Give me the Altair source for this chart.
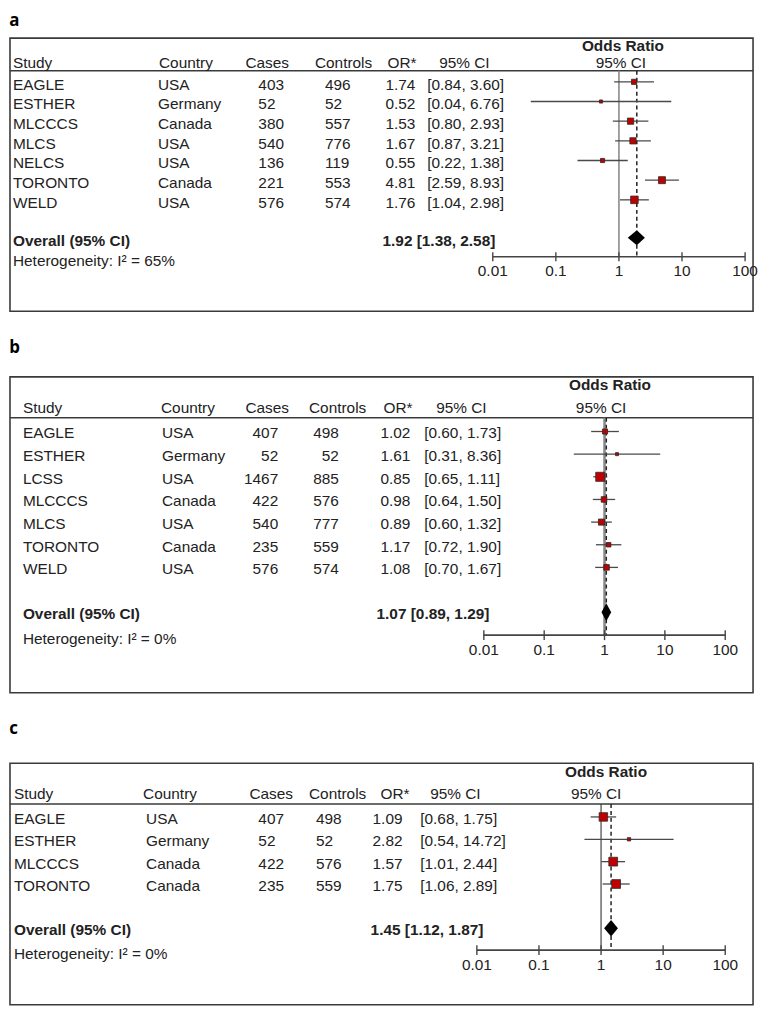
import altair as alt
import pandas as pd

# ---------------- data ----------------
# Panel a
a_study = ["EAGLE", "ESTHER", "MLCCCS", "MLCS", "NELCS", "TORONTO", "WELD"]
a_country = ["USA", "Germany", "Canada", "USA", "USA", "Canada", "USA"]
a_cases = [403, 52, 380, 540, 136, 221, 576]
a_controls = [496, 52, 557, 776, 119, 553, 574]
a_or = [1.74, 0.52, 1.53, 1.67, 0.55, 4.81, 1.76]
a_lo = [0.84, 0.04, 0.80, 0.87, 0.22, 2.59, 1.04]
a_hi = [3.60, 6.76, 2.93, 3.21, 1.38, 8.93, 2.98]
a_weight = [11.4, 4.1, 16.4, 16.4, 7.3, 20.5, 24.1]
a_overall = [1.92, 1.38, 2.58]
a_i2 = 65

# Panel b
b_study = ["EAGLE", "ESTHER", "LCSS", "MLCCCS", "MLCS", "TORONTO", "WELD"]
b_country = ["USA", "Germany", "USA", "Canada", "USA", "Canada", "USA"]
b_cases = [407, 52, 1467, 422, 540, 235, 576]
b_controls = [498, 52, 885, 576, 777, 559, 574]
b_or = [1.02, 1.61, 0.85, 0.98, 0.89, 1.17, 1.08]
b_lo = [0.60, 0.31, 0.65, 0.64, 0.60, 0.72, 0.70]
b_hi = [1.73, 8.36, 1.11, 1.50, 1.32, 1.90, 1.67]
b_weight = [10.9, 3.9, 34.8, 13.1, 15.7, 8.7, 13.1]
b_overall = [1.07, 0.89, 1.29]
b_i2 = 0

# Panel c
c_study = ["EAGLE", "ESTHER", "MLCCCS", "TORONTO"]
c_country = ["USA", "Germany", "Canada", "Canada"]
c_cases = [407, 52, 422, 235]
c_controls = [498, 52, 576, 559]
c_or = [1.09, 2.82, 1.57, 1.75]
c_lo = [0.68, 0.54, 1.01, 1.06]
c_hi = [1.75, 14.72, 2.44, 2.89]
c_weight = [30.5, 4.6, 32.5, 32.5]
c_overall = [1.45, 1.12, 1.87]
c_i2 = 0

tick_values = [0.01, 0.1, 1, 10, 100]
tick_labels = ["0.01", "0.1", "1", "10", "100"]
headers = ["Study", "Country", "Cases", "Controls", "OR*", "95% CI"]

# ---------------- layout / style ----------------
FONT = "Liberation Sans"
FS = 15.5
TXT = "#222222"
LINE = "#3a3a3a"
PANEL_W = 748

LAYOUT = {
    "a": dict(width=PANEL_W, height=275, ydom=(-2.222, 11.667), xrange=(486, 740), title_offset=8,
              y_or=-1.82, y_hdr=-0.96, y_line=-0.56, y_overall=7.93, y_het=9.09, y_axis=8.89,
              y_lab=9.6, tick=0.23, dh=0.38, dy=3,
              cols=dict(study=3, country_h=150, country=149, cases_h=237, cases=250,
                        controls_h=307, controls=317, or_h=380, or_=378, ci_h=432, ci=420,
                        overall_val=375, or_center=617, ci_center=615),
              num_align="left", one_color="#8a8a8a", one_width=1.6),
    "b": dict(width=PANEL_W, height=318, ydom=(-2.412, 11.535), xrange=(477, 720), title_offset=20,
              y_or=-2.06, y_hdr=-1.05, y_line=-0.61, y_overall=7.98, y_het=9.17, y_axis=8.99,
              y_lab=9.65, tick=0.22, dh=0.4, dy=2,
              cols=dict(study=13, country_h=152, country=153, cases_h=237, cases=270,
                        controls_h=301, controls=331, or_h=376, or_=403, ci_h=429, ci=417,
                        overall_val=369, or_center=604, ci_center=595),
              num_align="right", one_color="#8a8a8a", one_width=2.6),
    "c": dict(width=PANEL_W, height=243, ydom=(-2.4, 8.4), xrange=(470, 720), title_offset=25,
              y_or=-2.0, y_hdr=-1.02, y_line=-0.58, y_overall=4.98, y_het=6.13, y_axis=5.96,
              y_lab=6.62, tick=0.22, dh=0.37, dy=2,
              cols=dict(study=4, country_h=134, country=137, cases_h=241, cases=250,
                        controls_h=301, controls=308, or_h=373, or_=365, ci_h=423, ci=413,
                        overall_val=363, or_center=600, ci_center=590),
              num_align="left", one_color="#333333", one_width=1.1),
}


def panel(letter, study, country, cases, controls, orv, lo, hi, weight, overall, i2):
    L = LAYOUT[letter]
    C = L["cols"]
    n = len(study)
    df = pd.DataFrame(dict(idx=list(range(n)), study=study, country=country, cases=cases,
                           controls=controls, orv=orv, lo=lo, hi=hi, w=weight))
    df["ci"] = [f"[{l:.2f}, {h:.2f}]" for l, h in zip(lo, hi)]
    df["cases_s"] = [str(v) for v in cases]
    df["controls_s"] = [str(v) for v in controls]
    df["or_s"] = [f"{v:.2f}" for v in orv]

    yscale = alt.Scale(domain=list(L["ydom"]), reverse=True, nice=False, zero=False)
    xscale = alt.Scale(type="log", domain=[0.01, 100], range=list(L["xrange"]), nice=False)

    def Y(f):
        return alt.Y(f, type="quantitative", scale=yscale, axis=None)

    def X(f):
        return alt.X(f, type="quantitative", scale=xscale, axis=None)

    def one(val, y):
        return pd.DataFrame({"t": [val], "y": [y]})

    def text(data, x, field, y="y", align="left", bold=False, dy=0, size=FS):
        return alt.Chart(data).mark_text(
            align=align, baseline="middle", font=FONT, fontSize=size, color=TXT,
            fontWeight="bold" if bold else "normal", dy=dy,
        ).encode(x=alt.value(x), y=Y(y), text=alt.Text(f"{field}:N"))

    est, olo, ohi = overall
    layers = []

    # header separator line
    layers.append(alt.Chart(one("", L["y_line"])).mark_rule(color=LINE, strokeWidth=1.6).encode(
        x=alt.value(0), x2=alt.value(L["width"]), y=Y("y")))

    # vertical reference lines
    vref = pd.DataFrame({"x": [1.0], "y": [L["y_line"]], "y2": [L["y_axis"]]})
    layers.append(alt.Chart(vref).mark_rule(color=L["one_color"], strokeWidth=L["one_width"]).encode(
        x=X("x"), y=Y("y"), y2="y2"))
    vest = pd.DataFrame({"x": [est], "y": [L["y_line"]], "y2": [L["y_axis"]]})
    layers.append(alt.Chart(vest).mark_rule(color="#222222", strokeWidth=1.5, strokeDash=[4, 3]).encode(
        x=X("x"), y=Y("y"), y2="y2"))

    # CI lines
    layers.append(alt.Chart(df).mark_rule(color="#4a4a4a", strokeWidth=1.3).encode(
        x=X("lo"), x2="hi", y=Y("idx")))
    # study squares
    layers.append(alt.Chart(df).mark_square(filled=True, fill="#c00000", stroke="#2a2a2a",
                                            strokeWidth=0.8, opacity=1).encode(
        x=X("orv"), y=Y("idx"),
        size=alt.Size("w:Q", scale=alt.Scale(domain=[0, 100], range=[0, 240]), legend=None)))

    # overall diamond
    yo, h = L["y_overall"], L["dh"]
    dia = pd.DataFrame({"x": [olo, est, ohi], "y": [yo, yo - h, yo], "y2": [yo, yo + h, yo]})
    layers.append(alt.Chart(dia).mark_area(color="black", orient="vertical", interpolate="linear").encode(
        x=X("x"), y=Y("y"), y2="y2"))

    # x axis (line, ticks, labels)
    ax = pd.DataFrame({"x": [tick_values[0]], "x2": [tick_values[-1]], "y": [L["y_axis"]]})
    layers.append(alt.Chart(ax).mark_rule(color="#444444", strokeWidth=1.6).encode(
        x=X("x"), x2="x2", y=Y("y")))
    tk = pd.DataFrame({"x": tick_values, "y": [L["y_axis"] - L["tick"]] * len(tick_values),
                       "y2": [L["y_axis"] + L["tick"]] * len(tick_values)})
    layers.append(alt.Chart(tk).mark_rule(color="#444444", strokeWidth=1.4).encode(
        x=X("x"), y=Y("y"), y2="y2"))
    tl = pd.DataFrame({"x": tick_values, "lab": tick_labels, "y": [L["y_lab"]] * len(tick_values)})
    layers.append(alt.Chart(tl).mark_text(align="center", baseline="middle", font=FONT, fontSize=FS,
                                          color=TXT).encode(x=X("x"), y=Y("y"), text="lab:N"))

    # column headers
    hx = [C["study"], C["country_h"], C["cases_h"], C["controls_h"], C["or_h"], C["ci_h"]]
    for lab, x in zip(headers, hx):
        layers.append(text(one(lab, L["y_hdr"]), x, "t"))
    layers.append(text(one("Odds Ratio", L["y_or"]), C["or_center"], "t", align="center", bold=True))
    layers.append(text(one("95% CI", L["y_hdr"]), C["ci_center"], "t", align="center"))

    # table body
    dy = L["dy"]
    na = L["num_align"]
    layers.append(text(df, C["study"], "study", y="idx", dy=dy))
    layers.append(text(df, C["country"], "country", y="idx", dy=dy))
    layers.append(text(df, C["cases"], "cases_s", y="idx", dy=dy, align=na))
    layers.append(text(df, C["controls"], "controls_s", y="idx", dy=dy, align=na))
    layers.append(text(df, C["or_"], "or_s", y="idx", dy=dy, align=na))
    layers.append(text(df, C["ci"], "ci", y="idx", dy=dy))

    # overall + heterogeneity
    layers.append(text(one("Overall (95% CI)", yo), C["study"], "t", bold=True, dy=dy))
    layers.append(text(one(f"{est:.2f} [{olo:.2f}, {ohi:.2f}]", yo), C["overall_val"], "t", bold=True, dy=dy))
    layers.append(text(one(f"Heterogeneity: I\u00b2 = {i2}%", L["y_het"]), C["study"], "t"))

    return alt.layer(*layers).properties(
        width=L["width"], height=L["height"],
        title=alt.TitleParams(letter, anchor="start", offset=L["title_offset"], fontSize=17,
                              font="Open Sans", fontWeight="bold", color="#000000"),
    )


pa = panel("a", a_study, a_country, a_cases, a_controls, a_or, a_lo, a_hi, a_weight, a_overall, a_i2)
pb = panel("b", b_study, b_country, b_cases, b_controls, b_or, b_lo, b_hi, b_weight, b_overall, b_i2)
pc = panel("c", c_study, c_country, c_cases, c_controls, c_or, c_lo, c_hi, c_weight, c_overall, c_i2)

chart = alt.vconcat(pa, pb, pc, spacing=26).properties(padding=0).configure_view(
    stroke=LINE, strokeWidth=1.6
)

chart.save("out.html", embed_options={"renderer": "svg", "actions": False})
